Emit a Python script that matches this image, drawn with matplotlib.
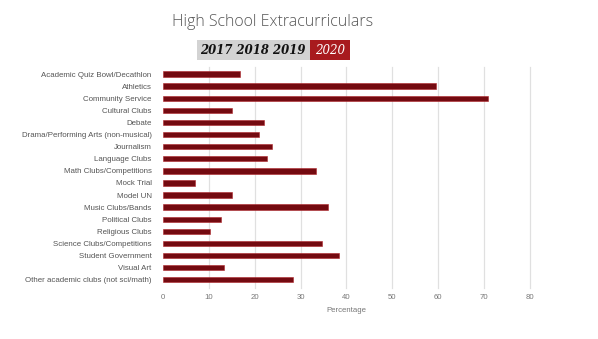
import matplotlib
matplotlib.use("Agg")
import matplotlib.pyplot as plt
from matplotlib.patches import Rectangle

categories = [
    "Academic Quiz Bowl/Decathlon",
    "Athletics",
    "Community Service",
    "Cultural Clubs",
    "Debate",
    "Drama/Performing Arts (non-musical)",
    "Journalism",
    "Language Clubs",
    "Math Clubs/Competitions",
    "Mock Trial",
    "Model UN",
    "Music Clubs/Bands",
    "Political Clubs",
    "Religious Clubs",
    "Science Clubs/Competitions",
    "Student Government",
    "Visual Art",
    "Other academic clubs (not sci/math)",
]
percentages = [16.8, 59.5, 70.9, 15.0, 22.1, 20.9, 23.8, 22.7, 33.4,
               7.0, 15.0, 35.9, 12.8, 10.3, 34.6, 38.3, 13.4, 28.3]
x_ticks = [0, 10, 20, 30, 40, 50, 60, 70, 80]
years = ["2017", "2018", "2019"]
selected_year = "2020"

W, H = 598, 339
fig = plt.figure(figsize=(W / 100, H / 100), dpi=100)
fig.patch.set_facecolor("white")

ax = fig.add_axes([162.7 / W, 1 - 285.8 / H, 367.5 / W, 217.8 / H])
ypos = list(range(len(categories)))
ax.barh(ypos, percentages, height=0.44, color="#740a10",
        edgecolor="#b0262b", linewidth=0.4, zorder=3)
ax.set_ylim(len(categories) - 0.5, -0.5)
ax.set_xlim(0, 80)

ax.set_yticks(ypos)
ax.set_yticklabels(categories, fontsize=5.7, color="#555555", family="Liberation Sans")
ax.set_xticks(x_ticks)
ax.set_xticklabels([str(t) for t in x_ticks], fontsize=5.6, color="#777777",
                   family="Liberation Sans")
ax.tick_params(axis="y", length=0, pad=8)
ax.tick_params(axis="x", length=0, pad=6)
for s in ax.spines.values():
    s.set_visible(False)
ax.set_xlabel("Percentage", fontsize=5.6, color="#777777", family="Liberation Sans",
              labelpad=4)

for t in x_ticks[1:]:
    ax.axvline(t, color="#e0e0e0", linewidth=0.9, zorder=1, ymin=-0.01, ymax=1.005,
               clip_on=False)

# Title
fig.text(273 / W, 1 - 22 / H, "High School Extracurriculars", ha="center", va="center",
         fontsize=11.5, color="#555555", family="Open Sans", fontweight="light")

# Year selector
gray_box = Rectangle((196.7 / W, 1 - 60 / H), (310 - 196.7) / W, 20 / H,
                     transform=fig.transFigure, facecolor="#d3d3d3", edgecolor="none")
red_box = Rectangle((310 / W, 1 - 60 / H), (350 - 310) / W, 20 / H,
                    transform=fig.transFigure, facecolor="#a81a1e", edgecolor="none")
fig.patches.extend([gray_box, red_box])
fig.text(253.3 / W, 1 - 50.5 / H, " ".join(years), ha="center", va="center",
         fontsize=8.4, color="#111111", family="DejaVu Serif", style="italic",
         fontweight="bold")
fig.text(330 / W, 1 - 50.5 / H, selected_year, ha="center", va="center",
         fontsize=8.6, color="white", family="DejaVu Serif", style="italic")

fig.savefig("out.png", dpi=100)
